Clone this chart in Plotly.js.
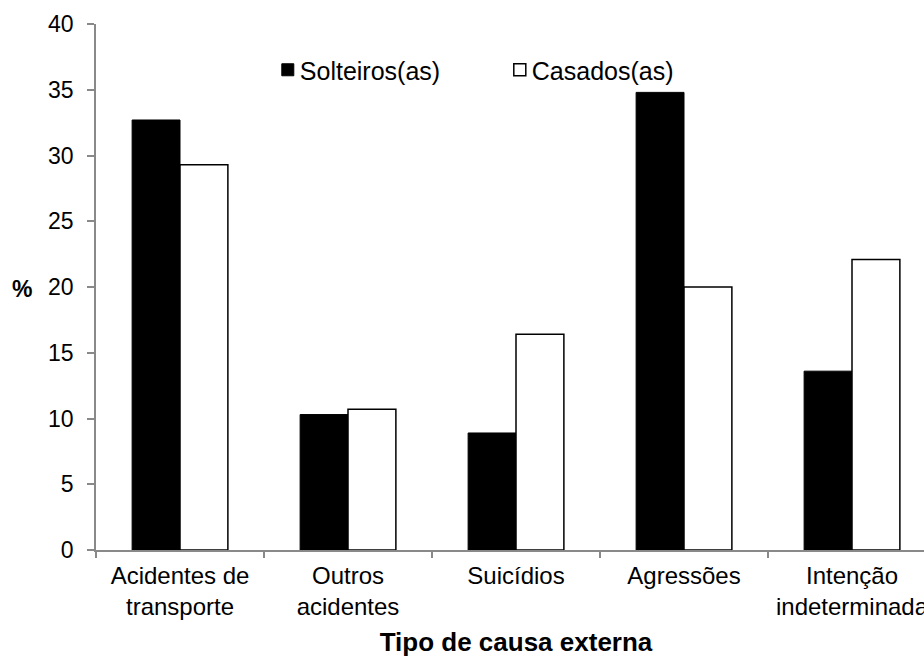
<!DOCTYPE html>
<html>
<head>
<meta charset="utf-8">
<script src="https://cdn.plot.ly/plotly-3.0.1.min.js"></script>
<style>
html, body { margin: 0; padding: 0; overflow: hidden; background: #fff; }
#chart { width: 936px; height: 657px; }
</style>
</head>
<body>
<div id="chart"></div>
<script>
const categories = ["Acidentes de<br>transporte", "Outros<br>acidentes", "Suicídios", "Agressões", "Intenção<br>indeterminada"];
const solteiros = [32.7, 10.3, 8.9, 34.8, 13.6];
const casados = [29.3, 10.7, 16.4, 20.0, 22.1];
const seriesNames = ["Solteiros(as)", "Casados(as)"];
const yTicks = [0, 5, 10, 15, 20, 25, 30, 35, 40];

const font = "Liberation Sans, Arial, sans-serif";
const axisColor = "#898989";

const traces = [
  { type: "bar", name: seriesNames[0], x: categories, y: solteiros,
    marker: { color: "#000000", line: { color: "#000000", width: 1 } } },
  { type: "bar", name: seriesNames[1], x: categories, y: casados,
    marker: { color: "#ffffff", line: { color: "#000000", width: 1.5 } } }
];

const layout = {
  width: 936, height: 657,
  margin: { l: 96, r: 0, t: 24, b: 107, pad: 0 },
  paper_bgcolor: "#ffffff", plot_bgcolor: "#ffffff",
  font: { family: font, size: 22, color: "#000000" },
  barmode: "group",
  bargap: 0.43, bargroupgap: 0,
  showlegend: true,
  legend: {
    orientation: "h", x: 0.195, xanchor: "left", y: 0.9125, yanchor: "middle",
    font: { family: font, size: 25, color: "#000000" },
    entrywidth: 187, entrywidthmode: "pixels",
    bgcolor: "rgba(0,0,0,0)", borderwidth: 0, itemwidth: 30
  },
  xaxis: {
    type: "category",
    showline: true, linecolor: axisColor, linewidth: 1.5,
    ticks: "outside", tickson: "boundaries", ticklen: 6, tickcolor: axisColor, tickwidth: 1.5,
    showgrid: false, zeroline: false,
    tickfont: { family: font, size: 24, color: "#000000" },
    ticklabelstandoff: 3,
    title: { text: "<b>Tipo de causa externa</b>", font: { family: font, size: 26, color: "#000000" }, standoff: 16 }
  },
  yaxis: {
    range: [0, 40], tickvals: yTicks, ticktext: yTicks.map(String),
    showline: true, linecolor: axisColor, linewidth: 1.5,
    ticks: "outside", ticklen: 7, tickcolor: axisColor, tickwidth: 1.5,
    showgrid: false, zeroline: false,
    tickfont: { family: font, size: 23, color: "#000000" },
    ticklabelstandoff: 9
  },
  annotations: [
    { text: "<b>%</b>", xref: "paper", yref: "paper", x: -0.088, y: 0.496,
      xanchor: "center", yanchor: "middle", showarrow: false,
      font: { family: font, size: 23, color: "#000000" } }
  ]
};

Plotly.newPlot("chart", traces, layout, { displayModeBar: false, responsive: false }).then(function (gd) {
  // pull each legend swatch closer to its label, as in the reference
  gd.querySelectorAll(".legend .legendsymbols").forEach(function (g) {
    g.setAttribute("transform", "translate(8,0)");
  });
});
</script>
</body>
</html>
